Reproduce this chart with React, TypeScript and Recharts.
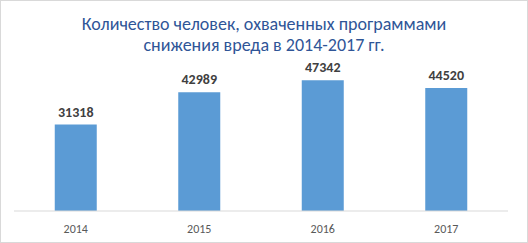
import React from "react";
import { BarChart, Bar, XAxis, YAxis, LabelList } from "recharts";

const years = ["2014", "2015", "2016", "2017"];
const people = [31318, 42989, 47342, 44520];
const titleLines = [
  "Количество человек, охваченных программами",
  "снижения вреда в 2014-2017 гг.",
];

const data = years.map((year, i) => ({ year, value: people[i] }));

const FONT = "Calibri, Carlito, 'Open Sans', sans-serif";

export default function App() {
  return (
    <div
      style={{
        position: "absolute",
        left: 0,
        top: 0,
        width: 528,
        height: 243,
        boxSizing: "border-box",
        border: "1px solid #d9d9d9",
        background: "#fff",
        fontFamily: FONT,
      }}
    >
      <div
        style={{
          position: "absolute",
          left: 0,
          right: 0,
          top: 13,
          textAlign: "center",
          color: "#2f5597",
          fontSize: 18,
          lineHeight: "21px",
        }}
      >
        {titleLines.map((t) => (
          <div key={t}>{t}</div>
        ))}
      </div>
      <div style={{ position: "absolute", left: -1, top: -1 }}>
        <BarChart
          width={528}
          height={243}
          data={data}
          margin={{ top: 73, right: 20, bottom: 0, left: 14 }}
          barCategoryGap="33%"
        >
          <YAxis hide domain={[0, 50000]} />
          <XAxis
            dataKey="year"
            height={32}
            tickLine={false}
            axisLine={{ stroke: "#d9d9d9" }}
            tick={{ fill: "#595959", fontSize: 12, fontFamily: FONT }}
            tickMargin={7}
          />
          <Bar dataKey="value" fill="#5b9bd5" isAnimationActive={false}>
            <LabelList
              dataKey="value"
              position="top"
              offset={8}
              style={{ fill: "#404040", fontSize: 14, fontWeight: 700, fontFamily: FONT }}
            />
          </Bar>
        </BarChart>
      </div>
    </div>
  );
}
